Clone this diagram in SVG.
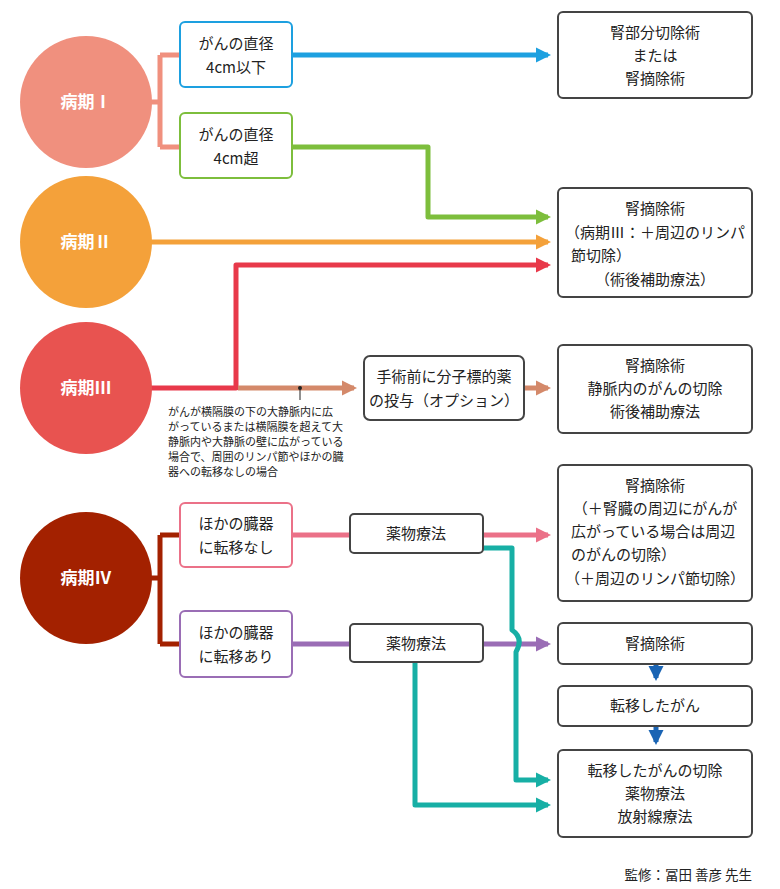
<svg xmlns="http://www.w3.org/2000/svg" width="780" height="889" viewBox="0 0 780 889">
<style>
text{font-family:"Noto Sans CJK JP","Noto Sans",sans-serif;fill:#222;font-size:15px;text-anchor:middle}
.c{fill:#fff;font-weight:bold;font-size:17px}
.b{fill:#fff;stroke:#444;stroke-width:2}
.l{fill:none;stroke-width:5;stroke-linejoin:round}
.s{font-size:11px;text-anchor:start}
</style>
<defs>
<marker id="aBlue" viewBox="0 0 10 10" refX="8" refY="5" markerWidth="3" markerHeight="4" orient="auto"><path d="M0,0L10,5L0,10z" fill="#1DA0E0"/></marker>
<marker id="aGreen" viewBox="0 0 10 10" refX="8" refY="5" markerWidth="3" markerHeight="4" orient="auto"><path d="M0,0L10,5L0,10z" fill="#7DBE3C"/></marker>
<marker id="aOrange" viewBox="0 0 10 10" refX="8" refY="5" markerWidth="3" markerHeight="4" orient="auto"><path d="M0,0L10,5L0,10z" fill="#F4A13A"/></marker>
<marker id="aRed" viewBox="0 0 10 10" refX="8" refY="5" markerWidth="3" markerHeight="4" orient="auto"><path d="M0,0L10,5L0,10z" fill="#E8394A"/></marker>
<marker id="aTan" viewBox="0 0 10 10" refX="8" refY="5" markerWidth="3" markerHeight="4" orient="auto"><path d="M0,0L10,5L0,10z" fill="#D4896A"/></marker>
<marker id="aPink" viewBox="0 0 10 10" refX="8" refY="5" markerWidth="3" markerHeight="4" orient="auto"><path d="M0,0L10,5L0,10z" fill="#EB7188"/></marker>
<marker id="aPurple" viewBox="0 0 10 10" refX="8" refY="5" markerWidth="3" markerHeight="4" orient="auto"><path d="M0,0L10,5L0,10z" fill="#9A6DB5"/></marker>
<marker id="aTeal" viewBox="0 0 10 10" refX="8" refY="5" markerWidth="3" markerHeight="4" orient="auto"><path d="M0,0L10,5L0,10z" fill="#17AFA5"/></marker>
<marker id="aNavy" viewBox="0 0 10 10" refX="8" refY="5" markerWidth="3" markerHeight="4" orient="auto"><path d="M0,0L10,5L0,10z" fill="#1A64B4"/></marker>
</defs>
<g id="connectors">
<path class="l" stroke="#F0907E" d="M150,102H160M160,55V147M160,55H180M160,147H180"/>
<path class="l" stroke="#1DA0E0" d="M292,55H548" marker-end="url(#aBlue)"/>
<path class="l" stroke="#7DBE3C" d="M292,147H428V217H548" marker-end="url(#aGreen)"/>
<path class="l" stroke="#F4A13A" d="M150,242H548" marker-end="url(#aOrange)"/>
<path class="l" stroke="#E8394A" d="M150,388H236V265H548" marker-end="url(#aRed)"/>
<path class="l" stroke="#D4896A" d="M238,388H354" marker-end="url(#aTan)"/>
<path class="l" stroke="#D4896A" d="M524,388H548" marker-end="url(#aTan)"/>
<circle cx="300" cy="388" r="2" fill="#222"/><path d="M300,388V400" stroke="#222" stroke-width="1"/>
<path class="l" stroke="#A32100" d="M150,578H160M160,535V644M160,535H180M160,644H180"/>
<path class="l" stroke="#EB7188" d="M292,535H350M483,535H548" marker-end="url(#aPink)"/>
<path class="l" stroke="#9A6DB5" d="M292,644H350M483,644H548" marker-end="url(#aPurple)"/>
<path class="l" stroke="#17AFA5" d="M483,548H512V630Q524,638 516,652V780H548" marker-end="url(#aTeal)"/>
<path class="l" stroke="#17AFA5" d="M415,662V805H548" marker-end="url(#aTeal)"/>
<path class="l" stroke="#1A64B4" d="M656,664V678" marker-end="url(#aNavy)"/>
<path class="l" stroke="#1A64B4" d="M656,726V742" marker-end="url(#aNavy)"/>
</g>
<g id="stage1"><circle cx="86" cy="102" r="66" fill="#F0907E"/><text class="c" x="86" y="108">病期Ⅰ</text></g>
<g id="stage2"><circle cx="86" cy="242" r="66" fill="#F4A13A"/><text class="c" x="86" y="248">病期Ⅱ</text></g>
<g id="stage3"><circle cx="86" cy="388" r="66" fill="#E85350"/><text class="c" x="86" y="394">病期Ⅲ</text></g>
<g id="stage4"><circle cx="86" cy="578" r="66" fill="#A32100"/><text class="c" x="86" y="584">病期Ⅳ</text></g>
<g id="n1"><rect x="180" y="22" width="112" height="65" rx="5" fill="#fff" stroke="#1DA0E0" stroke-width="2"/><text x="236" y="49">がんの直径</text><text x="236" y="73">4cm以下</text></g>
<g id="n2"><rect x="180" y="113" width="112" height="65" rx="5" fill="#fff" stroke="#7DBE3C" stroke-width="2"/><text x="236" y="140">がんの直径</text><text x="236" y="164">4cm超</text></g>
<g id="r1"><rect class="b" x="558" y="12" width="194" height="86" rx="5"/><text x="655" y="38">腎部分切除術</text><text x="655" y="61">または</text><text x="655" y="84">腎摘除術</text></g>
<g id="r2"><rect class="b" x="558" y="188" width="194" height="109" rx="5"/><text x="655" y="214">腎摘除術</text><text x="655" y="238">（病期Ⅲ：＋周辺のリンパ</text><text x="571" y="261" style="text-anchor:start">節切除）</text><text x="655" y="285">（術後補助療法）</text></g>
<g id="pre"><rect class="b" x="364" y="356" width="160" height="64" rx="6"/><text x="444" y="382">手術前に分子標的薬</text><text x="444" y="406">の投与（オプション）</text></g>
<g id="note"><text class="s" x="168" y="416">がんが横隔膜の下の大静脈内に広</text><text class="s" x="168" y="431">がっているまたは横隔膜を超えて大</text><text class="s" x="168" y="446">静脈内や大静脈の壁に広がっている</text><text class="s" x="168" y="461">場合で、周囲のリンパ節やほかの臓</text><text class="s" x="168" y="476">器への転移なしの場合</text></g>
<g id="r3"><rect class="b" x="558" y="345" width="194" height="88" rx="5"/><text x="655" y="371">腎摘除術</text><text x="655" y="394">静脈内のがんの切除</text><text x="655" y="417">術後補助療法</text></g>
<g id="n4a"><rect x="180" y="503" width="112" height="64" rx="5" fill="#fff" stroke="#EB7188" stroke-width="2"/><text x="236" y="529">ほかの臓器</text><text x="236" y="553">に転移なし</text></g>
<g id="n4b"><rect x="180" y="611" width="112" height="66" rx="5" fill="#fff" stroke="#9A6DB5" stroke-width="2"/><text x="236" y="638">ほかの臓器</text><text x="236" y="662">に転移あり</text></g>
<g id="d1"><rect class="b" x="350" y="514" width="133" height="39" rx="4"/><text x="416" y="539">薬物療法</text></g>
<g id="d2"><rect class="b" x="350" y="624" width="133" height="38" rx="4"/><text x="416" y="649">薬物療法</text></g>
<g id="r4"><rect class="b" x="558" y="465" width="194" height="136" rx="5"/><text x="655" y="491">腎摘除術</text><text x="655" y="514">（＋腎臓の周辺にがんが</text><text x="571" y="537" style="text-anchor:start">広がっている場合は周辺</text><text x="571" y="560" style="text-anchor:start">のがんの切除）</text><text x="655" y="584">（＋周辺のリンパ節切除）</text></g>
<g id="r5"><rect class="b" x="558" y="623" width="194" height="41" rx="5"/><text x="655" y="649">腎摘除術</text></g>
<g id="r6"><rect class="b" x="558" y="686" width="194" height="40" rx="5"/><text x="655" y="711">転移したがん</text></g>
<g id="r7"><rect class="b" x="558" y="750" width="194" height="87" rx="5"/><text x="655" y="776">転移したがんの切除</text><text x="655" y="799">薬物療法</text><text x="655" y="822">放射線療法</text></g>
<text x="752" y="880" style="text-anchor:end;font-size:13.5px">監修：冨田 善彦 先生</text>
</svg>
